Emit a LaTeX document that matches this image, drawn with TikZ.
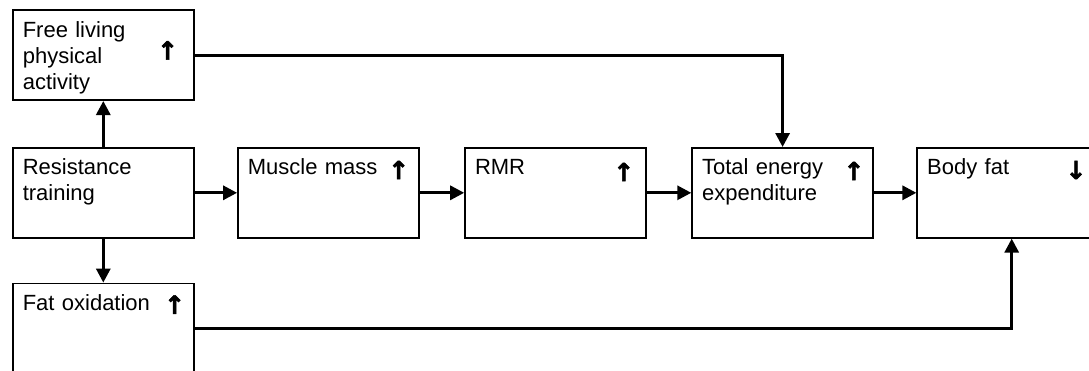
\documentclass[tikz,border=0pt]{standalone}
\usepackage{fontspec}
\setmainfont{Liberation Sans}
\newfontfamily\arrowfont{DejaVu Sans}[BoldFeatures={FakeBold=2}]
\usetikzlibrary{arrows.meta}
\usetikzlibrary{positioning}

\begin{document}
\begin{tikzpicture}[>={Triangle[length=14pt,width=14pt]},x=1pt,y=1pt,
    box/.style={draw,line width=1.6pt,anchor=north west,align=left,
      text width=161pt,inner xsep=10pt,inner ysep=12pt,
      text height=15pt,text depth=51pt,font=\fontsize{22}{26}\selectfont},
    trend/.style={font=\arrowfont\bfseries\fontsize{25}{25}\selectfont,inner sep=0pt},
    link/.style={->,line width=3pt}]

      \path[use as bounding box,clip] (0,0) rectangle (1089,-370);

      \node[box] (train) at (12,-147) {Resistance\\training};
      \node[box,above=46pt of train] (free) {Free living\\physical\\activity};
      \node[box,below=44pt of train] (fatox) {Fat oxidation};
      \node[box,right=42.5pt of train] (muscle) {Muscle mass};
      \node[box,right=44.5pt of muscle] (rmr) {RMR};
      \node[box,right=44.5pt of rmr] (tee) {Total energy\\expenditure};
      \node[box,right=42.5pt of tee] (bodyfat) {Body fat};

      % trend arrows
      \node[trend] (freeup) at ([shift={(-27,-41)}]free.north east) {↑};
      \node[trend] (fatoxup) at ([shift={(-20,-22)}]fatox.north east) {↑};
      \node[trend] (muscleup) at ([shift={(-21,-23)}]muscle.north east) {↑};
      \node[trend] (rmrup) at ([shift={(-23,-25)}]rmr.north east) {↑};
      \node[trend] (teeup) at ([shift={(-20,-24)}]tee.north east) {↑};
      \node[trend] (bodyfatdown) at ([shift={(-23,-23)}]bodyfat.north east) {↓};

      \path[link]
        (train) edge (free)
        (train) edge (fatox)
        (train) edge (muscle)
        (muscle) edge (rmr)
        (rmr) edge (tee)
        (tee) edge (bodyfat);
      \draw[link] (free) -| (tee);
      \draw[link] (fatox) -| ([xshift=4pt]bodyfat.south);
    \end{tikzpicture}
\end{document}
